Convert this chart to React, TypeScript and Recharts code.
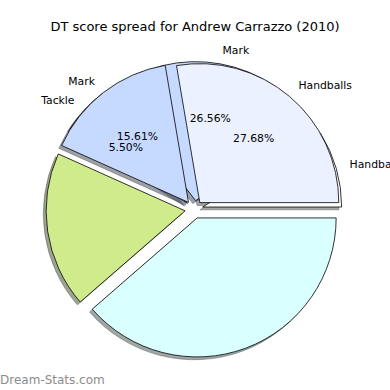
import React from 'react';
import { PieChart, Pie, Cell } from 'recharts';

// Front pie (drawn on top)
const mainLabels = ['Handballs', 'Mark', '', ''];
const mainValues = [27.68, 15.61, 18.1, 38.61];
const mainShowPct = [true, true, false, false];
const mainColors = ['#EBF1FF', '#C6D9FF', '#D0EB8C', '#D9FFFF'];

// Partial pie drawn underneath
const underLabels = ['Handballs', 'Mark', 'Tackle'];
const underValues = [8.9, 26.56, 5.5];
const underShowPct = [false, true, true];
const underColors = ['#FFFFFF', '#C6D9FF', '#C6D9FF'];

const CX = 194;
const CY = 209.5;
const R = 139;
const EXPLODE = 9;
const SHADOW = 2.8;
const FONT = '"DejaVu Sans", sans-serif';

interface Wedge {
  name: string;
  value: number;
  showPct: boolean;
  color: string;
  start: number;
  end: number;
  cx: number;
  cy: number;
}

function buildWedges(labels: string[], values: number[], showPct: boolean[], colors: string[]): Wedge[] {
  let acc = 0;
  return values.map((v, i) => {
    const start = acc * 3.6;
    acc += v;
    const end = acc * 3.6;
    const mid = ((start + end) / 2) * (Math.PI / 180);
    return {
      name: labels[i],
      value: v,
      showPct: showPct[i],
      color: colors[i],
      start,
      end,
      cx: CX + EXPLODE * Math.cos(mid),
      cy: CY - EXPLODE * Math.sin(mid),
    };
  });
}

// shadow colour like matplotlib: 0.3 * face colour
function shade(hex: string) {
  const n = parseInt(hex.slice(1), 16);
  const r = Math.round(((n >> 16) & 255) * 0.3);
  const g = Math.round(((n >> 8) & 255) * 0.3);
  const b = Math.round((n & 255) * 0.3);
  return `rgb(${r},${g},${b})`;
}

const underWedges = buildWedges(underLabels, underValues, underShowPct, underColors);
const mainWedges = buildWedges(mainLabels, mainValues, mainShowPct, mainColors);
const allWedges = [...underWedges, ...mainWedges];

function labelRenderer(w: Wedge) {
  return (props: any) => {
    const rad = (props.midAngle * Math.PI) / 180;
    const cos = Math.cos(rad);
    const sin = Math.sin(rad);
    const r = props.outerRadius;
    return (
      <g>
        {w.name && (
          <text
            x={props.cx + 1.1 * r * cos}
            y={props.cy - 1.1 * r * sin}
            textAnchor={cos > 0 ? 'start' : 'end'}
            dominantBaseline="central"
            fontSize={10.8}
            fill="#000"
          >
            {w.name}
          </text>
        )}
        {w.showPct && (
          <text
            x={props.cx + 0.6 * r * cos}
            y={props.cy - 0.6 * r * sin}
            textAnchor="middle"
            dominantBaseline="central"
            fontSize={10.8}
            fill="#000"
          >
            {`${w.value.toFixed(2)}%`}
          </text>
        )}
      </g>
    );
  };
}

export default function App() {
  return (
    <div
      style={{
        position: 'absolute',
        left: 0,
        top: 0,
        width: 390,
        height: 390,
        background: '#fff',
        overflow: 'hidden',
        fontFamily: FONT,
      }}
    >
      <div
        style={{
          position: 'absolute',
          left: 0,
          top: 19.5,
          width: 390,
          textAlign: 'center',
          fontSize: 13,
          lineHeight: '13px',
          color: '#000',
        }}
      >
        DT score spread for Andrew Carrazzo (2010)
      </div>
      <PieChart width={390} height={390} margin={{ top: 0, right: 0, bottom: 0, left: 0 }}>
        {/* shadows */}
        {allWedges.map((w, i) => (
          <Pie
            key={`shadow-${i}`}
            data={[{ name: w.name, value: w.value }]}
            dataKey="value"
            cx={w.cx - SHADOW}
            cy={w.cy + SHADOW}
            outerRadius={R}
            startAngle={w.start}
            endAngle={w.end}
            isAnimationActive={false}
            labelLine={false}
            label={false}
          >
            <Cell fill={shade(w.color)} fillOpacity={0.5} stroke={shade(w.color)} strokeOpacity={0.5} strokeWidth={0.8} />
          </Pie>
        ))}
        {/* wedges */}
        {allWedges.map((w, i) => (
          <Pie
            key={`wedge-${i}`}
            data={[{ name: w.name, value: w.value }]}
            dataKey="value"
            cx={w.cx}
            cy={w.cy}
            outerRadius={R}
            startAngle={w.start}
            endAngle={w.end}
            isAnimationActive={false}
            labelLine={false}
            label={false}
          >
            <Cell fill={w.color} stroke="#000" strokeWidth={0.8} />
          </Pie>
        ))}
        {/* labels on top */}
        {allWedges.map((w, i) => (
          <Pie
            key={`label-${i}`}
            data={[{ name: w.name, value: w.value }]}
            dataKey="value"
            cx={w.cx}
            cy={w.cy}
            outerRadius={R}
            startAngle={w.start}
            endAngle={w.end}
            isAnimationActive={false}
            labelLine={false}
            label={labelRenderer(w)}
          >
            <Cell fill="none" stroke="none" />
          </Pie>
        ))}
      </PieChart>
      <div
        style={{
          position: 'absolute',
          left: 0,
          top: 373.5,
          fontSize: 12,
          lineHeight: '12px',
          color: '#8c8c8c',
        }}
      >
        Dream-Stats.com
      </div>
    </div>
  );
}
